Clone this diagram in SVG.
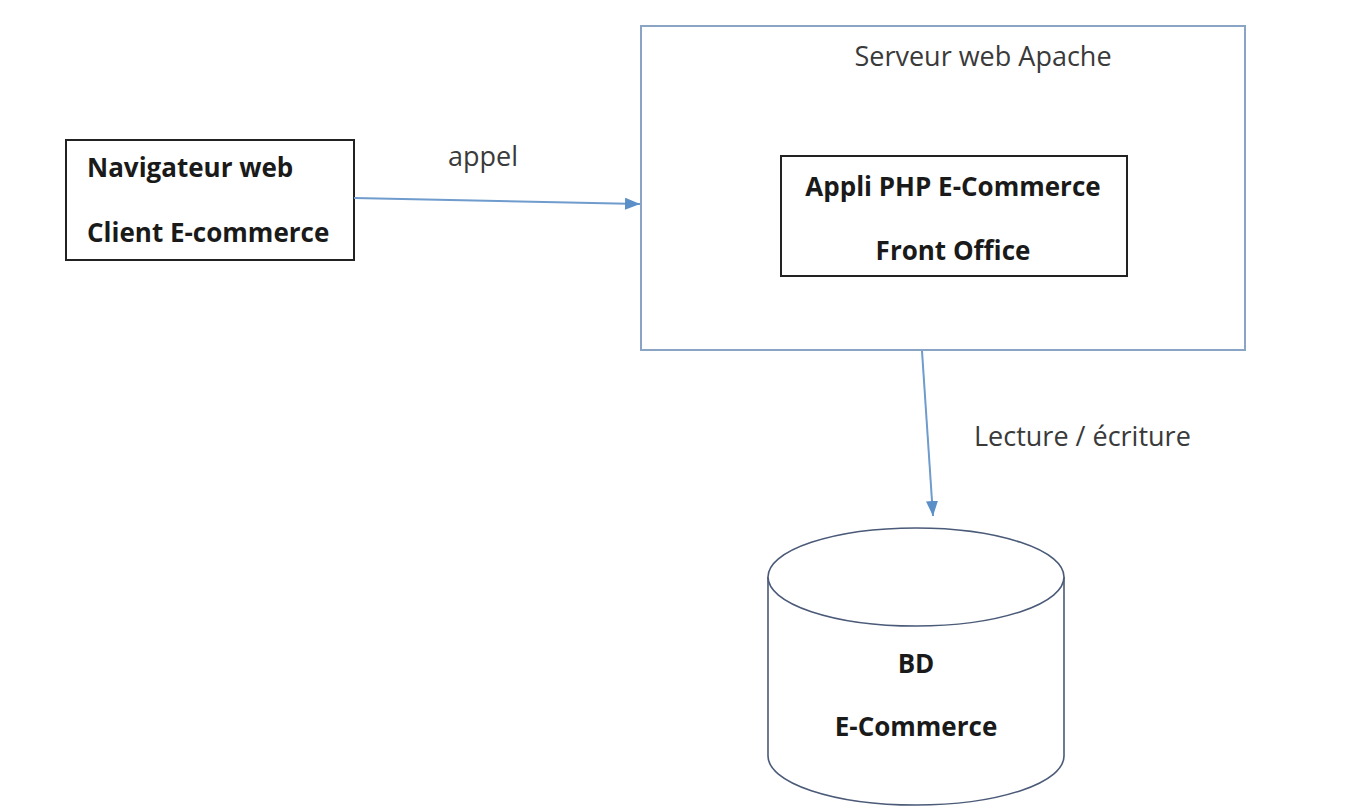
<svg xmlns="http://www.w3.org/2000/svg" width="1360" height="812" viewBox="0 0 1360 812">
<defs>
<marker id="arr" viewBox="0 0 10 10" refX="10" refY="5" markerWidth="15" markerHeight="12" orient="auto" markerUnits="userSpaceOnUse" preserveAspectRatio="none">
<path d="M0,0 L10,5 L0,10 z" fill="#5b8fc8"/>
</marker>
<style>
.box{fill:#fff;stroke:#222;stroke-width:2}
.sbox{fill:#fff;stroke:#8aa4c6;stroke-width:2}
.cyl{fill:#fff;stroke:#4a5a78;stroke-width:1.6}
.b{font-family:"Open Sans","Liberation Sans",sans-serif;font-weight:bold;font-size:26px;fill:#1a1a1a}
.n{font-family:"Open Sans","Liberation Sans",sans-serif;font-size:27px;fill:#3a3a3a}
.conn{stroke:#6f9bcd;stroke-width:2;fill:none}
</style>
</defs>
<rect width="1360" height="812" fill="#fff"/>
<g id="client">
<rect class="box" x="66" y="140" width="288" height="120"/>
<text class="b" x="87" y="177">Navigateur web</text>
<text class="b" x="87" y="242">Client E-commerce</text>
</g>
<g id="serveur">
<rect class="sbox" x="641" y="26" width="604" height="324"/>
<text class="n" x="983" y="66" text-anchor="middle">Serveur web Apache</text>
</g>
<g id="appli">
<rect class="box" x="781" y="156" width="346" height="120"/>
<text class="b" x="953" y="196" text-anchor="middle">Appli PHP E-Commerce</text>
<text class="b" x="953" y="260" text-anchor="middle">Front Office</text>
</g>
<g id="bd">
<path class="cyl" d="M768,577 L768,756 A148,49 0 0 0 1064,756 L1064,577"/>
<ellipse class="cyl" cx="916" cy="577" rx="148" ry="49"/>
<text class="b" x="916" y="673" text-anchor="middle">BD</text>
<text class="b" x="916" y="736" text-anchor="middle">E-Commerce</text>
</g>
<g id="connectors">
<line class="conn" x1="354" y1="198" x2="640" y2="204" marker-end="url(#arr)"/>
<line class="conn" x1="922" y1="351" x2="933" y2="516" marker-end="url(#arr)"/>
<text class="n" x="483" y="166" text-anchor="middle">appel</text>
<text class="n" x="974" y="446">Lecture / écriture</text>
</g>
</svg>
